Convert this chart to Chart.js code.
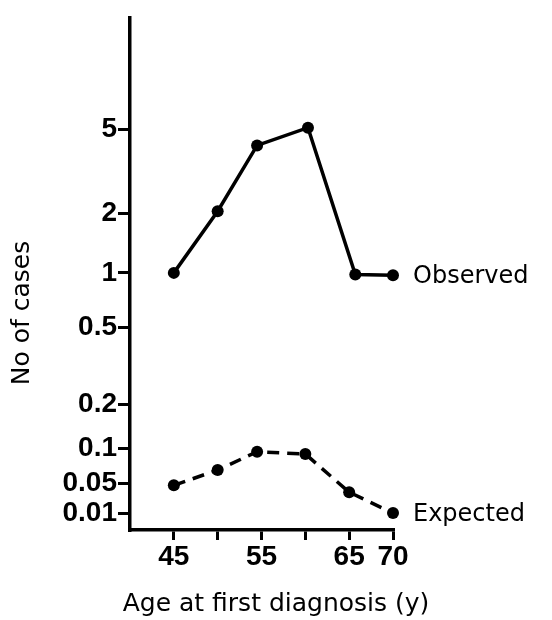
<!DOCTYPE html>
<html>
<head>
<meta charset="utf-8">
<script src="https://cdn.jsdelivr.net/npm/chart.js@4/dist/chart.umd.min.js"></script>
<style>
  html, body { margin: 0; padding: 0; background: #ffffff; }
  #wrap { width: 552px; height: 620px; }
</style>
</head>
<body>
<div id="wrap"><canvas id="c" width="552" height="620"></canvas></div>
<script>
// ---- data ----
const seriesNames = ['Observed', 'Expected'];
const observedAges = [45, 50, 54.5, 60.3, 65.7, 70];
const observedCases = [1, 2.05, 4.2, 5.1, 0.98, 0.97];
const expectedAges = [45, 50, 54.5, 60, 65, 70];
const expectedCases = [0.045, 0.065, 0.093, 0.089, 0.031, 0.01];
const yTickValues = [0.01, 0.05, 0.1, 0.2, 0.5, 1, 2, 5];
const xTickValues = [45, 50, 55, 60, 65, 70];
const xTickLabels = ['45', '', '55', '', '65', '70'];
const xTitle = 'Age at first diagnosis (y)';
const yTitle = 'No of cases';

// ---- a broken (non-uniform log) value axis, as drawn in the figure ----
class BreakScale extends Chart.LinearScale {
  _toDecimal(v) {
    const vals = this.options.breakValues, fr = this.options.breakFractions;
    const lv = Math.log(v);
    let i = 0;
    while (i < vals.length - 2 && lv > Math.log(vals[i + 1])) i++;
    const a = Math.log(vals[i]), b = Math.log(vals[i + 1]);
    return fr[i] + (lv - a) / (b - a) * (fr[i + 1] - fr[i]);
  }
  _fromDecimal(d) {
    const vals = this.options.breakValues, fr = this.options.breakFractions;
    let i = 0;
    while (i < fr.length - 2 && d > fr[i + 1]) i++;
    const a = Math.log(vals[i]), b = Math.log(vals[i + 1]);
    return Math.exp(a + (d - fr[i]) / (fr[i + 1] - fr[i]) * (b - a));
  }
  getPixelForValue(value) { return this.getPixelForDecimal(this._toDecimal(value)); }
  getValueForPixel(pixel) { return this._fromDecimal(this.getDecimalForPixel(pixel)); }
}
BreakScale.id = 'breaks';
BreakScale.defaults = Chart.LinearScale.defaults;
Chart.register(BreakScale);

const labelPlugin = {
  id: 'labels',
  afterDraw(chart) {
    const ctx = chart.ctx;
    ctx.save();
    ctx.fillStyle = '#000';
    ctx.font = '500 24px "DejaVu Sans"';
    ctx.textAlign = 'left';
    ctx.textBaseline = 'middle';
    chart.data.datasets.forEach((ds, i) => {
      const meta = chart.getDatasetMeta(i);
      const last = meta.data[meta.data.length - 1];
      ctx.fillText(ds.label, last.x + 20, last.y + 2);
    });
    ctx.font = '25px "DejaVu Sans"';
    ctx.textAlign = 'center';
    ctx.fillText(xTitle, 276, 604);
    ctx.translate(22, 313);
    ctx.rotate(-Math.PI / 2);
    ctx.fillText(yTitle, 0, 0);
    ctx.restore();
  }
};

const tickFont = { family: '"Liberation Sans", Arial, sans-serif', size: 28, weight: 'bold' };

new Chart(document.getElementById('c'), {
  type: 'line',
  data: {
    datasets: [
      {
        label: seriesNames[0],
        data: observedAges.map((a, i) => ({ x: a, y: observedCases[i] })),
        borderColor: '#000', backgroundColor: '#000',
        borderWidth: 3.5, pointRadius: 6, pointBorderWidth: 0,
        pointBackgroundColor: '#000', tension: 0, clip: false
      },
      {
        label: seriesNames[1],
        data: expectedAges.map((a, i) => ({ x: a, y: expectedCases[i] })),
        borderColor: '#000', backgroundColor: '#000',
        borderWidth: 3.5, borderDash: [12, 8], pointRadius: 6, pointBorderWidth: 0,
        pointBackgroundColor: '#000', tension: 0, clip: false
      }
    ]
  },
  options: {
    responsive: false,
    animation: false,
    devicePixelRatio: 1,
    layout: { padding: { top: 12, right: 159, bottom: 0, left: 0 } },
    plugins: { legend: { display: false }, tooltip: { enabled: false } },
    scales: {
      x: {
        type: 'linear', min: 40, max: 70,
        afterBuildTicks: (s) => { s.ticks = xTickValues.map(v => ({ value: v })); },
        afterFit: (s) => { s.height = 90; },
        ticks: {
          autoSkip: false, maxRotation: 0, color: '#000', font: tickFont, padding: 0,
          callback: (v) => xTickLabels[xTickValues.indexOf(v)] ?? ''
        },
        grid: { drawOnChartArea: false, drawTicks: true, tickLength: 10, color: '#000', lineWidth: 3 },
        border: { display: true, color: '#000', width: 3.5 }
      },
      y: {
        type: 'breaks', min: 0.005, max: 30,
        breakValues: yTickValues,
        breakFractions: [0.033, 0.091, 0.160, 0.245, 0.396, 0.502, 0.618, 0.782],
        afterBuildTicks: (s) => { s.ticks = yTickValues.map(v => ({ value: v })); },
        afterFit: (s) => { s.width = 130; },
        ticks: {
          autoSkip: false, color: '#000', font: tickFont, padding: 1,
          callback: (v) => String(v)
        },
        grid: { drawOnChartArea: false, drawTicks: true, tickLength: 12, color: '#000', lineWidth: 3 },
        border: { display: true, color: '#000', width: 3.5 }
      }
    }
  },
  plugins: [labelPlugin]
});
</script>
</body>
</html>
